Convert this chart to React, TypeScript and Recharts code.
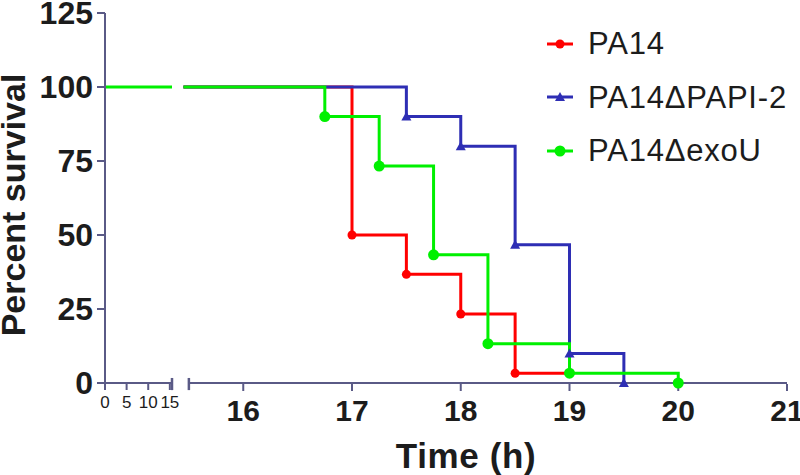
import React from 'react';
import { LineChart, Line, XAxis, YAxis, ReferenceLine, Legend, Label } from 'recharts';

// ---- data ----
const earlyTimes = [0, 15.5];
const earlySurvival = [100, 100];

const pa14Times = [15.45, 17, 17.5, 18, 18.5, 19];
const pa14Survival = [100, 50, 36.7, 23.3, 3.3, 3.3];

const papiTimes = [15.45, 17.5, 18, 18.5, 19, 19.5];
const papiSurvival = [100, 90, 80, 46.7, 10, 0];

const exoUTimes = [15.45, 16.75, 17.25, 17.75, 18.25, 19, 20];
const exoUSurvival = [100, 90, 73.3, 43.3, 13.3, 3.3, 0];

const seriesNames = ['PA14', 'PA14\u0394PAPI-2', 'PA14\u0394exoU'];
const yTicks = [0, 25, 50, 75, 100, 125];
const earlyTicks = [0, 5, 10, 15];
const lateTicks = [16, 17, 18, 19, 20, 21];
const breakPoint = 15.5;

// ---- styles ----
const FONT = '"Liberation Sans", Arial, sans-serif';
const AXIS = '#5a5a86';
const TEXT = '#1c1c1c';
const RED = '#ff0000';
const BLUE = '#2e2eb4';
const GREEN = '#00f000';

const build = (times: number[], surv: number[]) =>
  times.map((t, i) => ({ t, s: surv[i], drop: i > 0 && surv[i] < surv[i - 1] }));

const earlyData = build(earlyTimes, earlySurvival);
const pa14Data = build(pa14Times, pa14Survival);
const papiData = build(papiTimes, papiSurvival);
const exoUData = build(exoUTimes, exoUSurvival);

const Marker = ({ shape, color, cx, cy }: { shape: string; color: string; cx: number; cy: number }) => {
  if (shape === 'triangle') {
    return <polygon points={`${cx - 5},${cy + 4} ${cx + 5},${cy + 4} ${cx},${cy - 5}`} fill={color} />;
  }
  return <circle cx={cx} cy={cy} r={shape === 'big' ? 5.5 : 4.5} fill={color} />;
};

const makeDot = (shape: string, color: string) => (props: any) => {
  const { cx, cy, index, payload } = props;
  if (!payload || !payload.drop || cx == null || cy == null) return <g key={`d-${index}`} />;
  return (
    <g key={`d-${index}`}>
      <Marker shape={shape} color={color} cx={cx} cy={cy} />
    </g>
  );
};

const legendShapes = ['circle', 'triangle', 'big'];

const LegendContent = (props: any) => {
  const items = (props.payload || []).filter((p: any) => p.type !== 'none');
  return (
    <div style={{ fontFamily: FONT }}>
      {items.map((it: any, i: number) => (
        <div key={i} style={{ height: 53.5, display: 'flex', alignItems: 'center' }}>
          <svg width={28} height={20} style={{ display: 'block' }}>
            <line x1={1} y1={10} x2={27} y2={10} stroke={it.color} strokeWidth={3} />
            <Marker shape={legendShapes[i]} color={it.color} cx={14} cy={10} />
          </svg>
          <span style={{ marginLeft: 14, fontSize: 31, letterSpacing: 0.8, color: TEXT, lineHeight: 1 }}>
            {it.value}
          </span>
        </div>
      ))}
    </div>
  );
};

export default function App() {
  return (
    <div style={{ position: 'absolute', left: 0, top: 0, background: '#fff' }}>
      <LineChart width={800} height={475} margin={{ top: 13, right: 13, bottom: 90, left: 0 }}>
        <XAxis
          xAxisId="early"
          type="number"
          dataKey="t"
          domain={[0, breakPoint]}
          ticks={earlyTicks}
          padding={{ left: 0, right: 615 }}
          height={1}
          axisLine={false}
          tickLine={{ stroke: AXIS, strokeWidth: 2 }}
          tickSize={7}
          tickMargin={6}
          tick={{ fontSize: 17, fill: TEXT, fontFamily: FONT }}
          interval={0}
          allowDataOverflow
        />
        <XAxis
          xAxisId="late"
          type="number"
          dataKey="t"
          domain={[15.4, 21]}
          ticks={lateTicks}
          padding={{ left: 73, right: 0 }}
          height={1}
          axisLine={false}
          tickLine={{ stroke: AXIS, strokeWidth: 2 }}
          tickSize={7}
          tickMargin={9}
          tick={{ fontSize: 30, fontWeight: 'bold', fill: TEXT, fontFamily: FONT }}
          interval={0}
          allowDataOverflow
        >
          <Label
            value="Time (h)"
            position="insideBottom"
            offset={-83}
            dx={20}
            style={{ fontSize: 35, fontWeight: 'bold', letterSpacing: 0.6, fill: TEXT, fontFamily: FONT }}
          />
        </XAxis>
        <YAxis
          type="number"
          dataKey="s"
          domain={[0, 125]}
          ticks={yTicks}
          width={105}
          axisLine={{ stroke: AXIS, strokeWidth: 2 }}
          tickLine={{ stroke: AXIS, strokeWidth: 2 }}
          tickSize={8}
          tickMargin={4}
          tick={{ fontSize: 32, fontWeight: 'bold', fill: TEXT, fontFamily: FONT }}
          interval={0}
        >
          <Label
            content={(p: any) => {
              const vb = p.viewBox || { x: 0, y: 13, width: 105, height: 370 };
              const cx = vb.x + 13;
              const cy = vb.y + vb.height / 2 + 7;
              return (
                <text
                  x={cx}
                  y={cy}
                  transform={`rotate(-90, ${cx}, ${cy})`}
                  textAnchor="middle"
                  dominantBaseline="central"
                  style={{ fontSize: 34, fontWeight: 'bold', fill: TEXT, fontFamily: FONT }}
                >
                  Percent survival
                </text>
              );
            }}
          />
        </YAxis>

        <ReferenceLine
          xAxisId="early"
          segment={[{ x: 0, y: 0 }, { x: breakPoint, y: 0 }]}
          stroke={AXIS}
          strokeWidth={2}
          ifOverflow="visible"
        />
        <ReferenceLine
          xAxisId="early"
          segment={[{ x: breakPoint, y: -2.4 }, { x: breakPoint, y: 1.7 }]}
          stroke={AXIS}
          strokeWidth={2.5}
          ifOverflow="visible"
        />
        <ReferenceLine
          xAxisId="late"
          segment={[{ x: breakPoint, y: 0 }, { x: 21, y: 0 }]}
          stroke={AXIS}
          strokeWidth={2}
          ifOverflow="visible"
        />
        <ReferenceLine
          xAxisId="late"
          segment={[{ x: breakPoint, y: -2.4 }, { x: breakPoint, y: 1.7 }]}
          stroke={AXIS}
          strokeWidth={2.5}
          ifOverflow="visible"
        />

        <Line
          xAxisId="early"
          data={earlyData}
          dataKey="s"
          name="early"
          type="linear"
          stroke={GREEN}
          strokeWidth={3}
          dot={false}
          activeDot={false}
          legendType="none"
          isAnimationActive={false}
        />
        <Line
          xAxisId="late"
          data={pa14Data}
          dataKey="s"
          name={seriesNames[0]}
          type="stepAfter"
          stroke={RED}
          strokeWidth={3}
          dot={makeDot('circle', RED)}
          activeDot={false}
          isAnimationActive={false}
        />
        <Line
          xAxisId="late"
          data={papiData}
          dataKey="s"
          name={seriesNames[1]}
          type="stepAfter"
          stroke={BLUE}
          strokeWidth={3}
          dot={makeDot('triangle', BLUE)}
          activeDot={false}
          isAnimationActive={false}
        />
        <Line
          xAxisId="late"
          data={exoUData}
          dataKey="s"
          name={seriesNames[2]}
          type="stepAfter"
          stroke={GREEN}
          strokeWidth={3}
          dot={makeDot('big', GREEN)}
          activeDot={false}
          isAnimationActive={false}
        />

        <Legend
          layout="vertical"
          align="center"
          verticalAlign="middle"
          content={<LegendContent />}
          wrapperStyle={{ left: 546, top: 17, width: 254 }}
        />
      </LineChart>
    </div>
  );
}
